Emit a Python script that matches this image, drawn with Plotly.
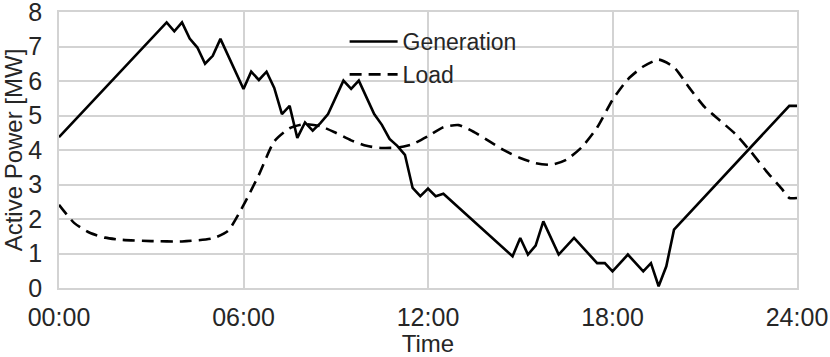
import plotly.graph_objects as go

# Generation (MW), read at the corners of the trace; hours since midnight
gen_hours = [0, 3.5, 3.75, 4.0, 4.25, 4.5, 4.75, 5.0, 5.25, 6.0, 6.25, 6.5, 6.75,
             7.0, 7.25, 7.5, 7.75, 8.0, 8.25, 8.5, 8.75, 9.25, 9.5, 9.75, 10.25,
             10.5, 10.75, 11.0, 11.25, 11.5, 11.75, 12.0, 12.25, 12.5, 14.75,
             15.0, 15.25, 15.5, 15.75, 16.25, 16.75, 17.5, 17.75, 18.0, 18.5,
             19.0, 19.25, 19.5, 19.75, 20.0, 23.75, 24.0]
gen_mw = [4.37, 7.70, 7.44, 7.70, 7.23, 6.97, 6.50, 6.73, 7.22, 5.77, 6.27, 6.03, 6.27,
          5.80, 5.04, 5.28, 4.35, 4.80, 4.56, 4.78, 5.04, 6.01, 5.77, 6.01, 5.04,
          4.73, 4.32, 4.12, 3.86, 2.90, 2.66, 2.88, 2.66, 2.73, 0.92,
          1.45, 0.97, 1.23, 1.93, 0.97, 1.45, 0.72, 0.72, 0.48, 0.97,
          0.48, 0.72, 0.05, 0.63, 1.69, 5.28, 5.28]

# Load (MW)
load_hours = [0, 0.5, 1, 1.5, 2, 3, 4, 5, 5.5, 6, 6.5, 7, 7.5, 8, 8.5, 9, 9.5, 10,
              10.5, 11, 11.5, 12, 12.5, 13, 13.5, 14, 14.5, 15, 15.5, 16, 16.5,
              17, 17.5, 18, 18.5, 19, 19.5, 20, 20.5, 21, 21.5, 22, 22.5, 23,
              23.5, 23.75, 24]
load_mw = [2.41, 1.88, 1.60, 1.46, 1.40, 1.36, 1.35, 1.44, 1.66, 2.40, 3.28, 4.25,
           4.63, 4.75, 4.69, 4.50, 4.28, 4.12, 4.06, 4.07, 4.17, 4.40, 4.66, 4.72,
           4.52, 4.25, 3.98, 3.77, 3.62, 3.57, 3.72, 4.08, 4.65, 5.45, 6.05, 6.42,
           6.62, 6.40, 5.80, 5.24, 4.85, 4.46, 3.95, 3.39, 2.88, 2.61, 2.61]

tick_hours = [0, 6, 12, 18, 24]
tick_labels = ['00:00', '06:00', '12:00', '18:00', '24:00']

fig = go.Figure()
fig.add_trace(go.Scatter(x=gen_hours, y=gen_mw, mode='lines', name='Generation',
                         line=dict(color='black', width=2.6)))
fig.add_trace(go.Scatter(x=load_hours, y=load_mw, mode='lines', name='Load',
                         line=dict(color='black', width=2.6, dash='12px,7px',
                                   shape='spline', smoothing=0.6)))

axis_style = dict(showgrid=True, gridcolor='#d3d3d3', gridwidth=1.5,
                  showline=True, linecolor='#d3d3d3', linewidth=1.5, mirror=True,
                  zeroline=False, ticks='', automargin=False,
                  ticklabeloverflow='allow',
                  tickfont=dict(size=25, color='#262626'))

fig.update_layout(
    width=830, height=357,
    margin=dict(l=59, r=33, t=12, b=69),
    plot_bgcolor='white', paper_bgcolor='white',
    font=dict(family='Liberation Sans, Arial, sans-serif', color='#262626'),
    showlegend=True,
    legend=dict(x=0.387, y=0.971, xanchor='left', yanchor='top',
                bgcolor='rgba(0,0,0,0)', font=dict(size=23), itemwidth=48),
    xaxis=dict(range=[0, 24], tickvals=tick_hours, ticktext=tick_labels,
               ticklabelstandoff=6,
               title=dict(text='Time', font=dict(size=24)), **axis_style),
    yaxis=dict(range=[0, 8], dtick=1, ticklabelstandoff=10,
               title=dict(text='Active Power [MW]', font=dict(size=24)),
               **axis_style),
)

# the page body has a default margin; drop it so the figure sits at 0,0
fig.write_html("out.html", config={'displayModeBar': False},
               post_script="document.body.style.margin='0';")
